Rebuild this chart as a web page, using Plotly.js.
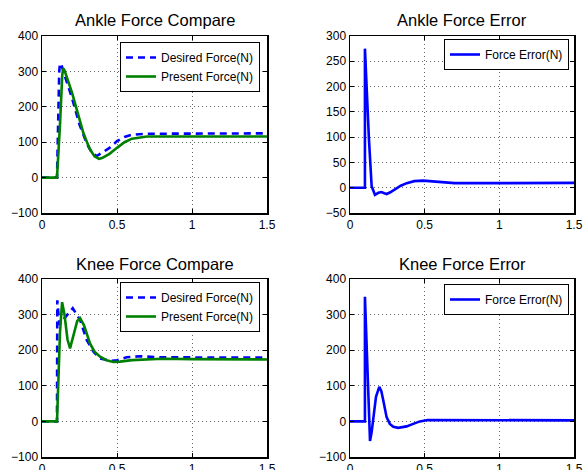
<!DOCTYPE html>
<html>
<head>
<meta charset="utf-8">
<script src="https://cdn.plot.ly/plotly-3.0.1.min.js"></script>
<style>html,body{margin:0;padding:0;background:#fff;}#chart{width:583px;height:470px;}</style>
</head>
<body>
<div id="chart"></div>
<script>
// ---- data ----
const xTickVals = [0, 0.5, 1, 1.5];
const xTickText = ["0", "0.5", "1", "1.5"];

// Ankle Force Compare
const ankleDesiredT = [0, 0.1, 0.105, 0.11, 0.115, 0.12, 0.13, 0.15, 0.2, 0.25, 0.3, 0.33, 0.365, 0.4, 0.45, 0.5, 0.55, 0.6, 0.7, 0.8, 1.0, 1.5];
const ankleDesired  = [0, 0, 100, 230, 300, 323, 318, 290, 225, 150, 95, 72, 61, 70, 84, 103, 115, 121, 124, 124, 124, 125];
const anklePresentT = [0, 0.1, 0.12, 0.135, 0.142, 0.15, 0.2, 0.25, 0.276, 0.3, 0.32, 0.35, 0.38, 0.4, 0.45, 0.5, 0.55, 0.6, 0.65, 0.7, 0.8, 1.0, 1.5];
const anklePresent  = [0, 0, 150, 290, 308, 303, 240, 165, 126, 100, 80, 60, 53, 55, 67, 84, 100, 110, 114, 116, 116, 116, 116];

// Ankle Force Error
const ankleErrT = [0, 0.1, 0.1, 0.11, 0.127, 0.145, 0.16, 0.167, 0.19, 0.21, 0.23, 0.245, 0.27, 0.3, 0.34, 0.38, 0.43, 0.49, 0.55, 0.6, 0.7, 0.9, 1.2, 1.5];
const ankleErr  = [0, 0, 275, 195, 95, 3, -12, -14, -10, -8.5, -11, -12.5, -9, -3, 4, 9, 13, 14, 12.5, 10.5, 9, 9, 9, 9.5];

// Knee Force Compare
const kneeDesiredT = [0, 0.1, 0.102, 0.116, 0.16, 0.205, 0.254, 0.298, 0.343, 0.387, 0.454, 0.499, 0.565, 0.654, 0.788, 1.055, 1.5];
const kneeDesired  = [0, 0, 340, 271, 295, 318, 285, 229, 196, 177, 170, 172, 180, 183, 180, 179, 179];
const kneePresentT = [0, 0.1, 0.12, 0.134, 0.15, 0.17, 0.187, 0.21, 0.235, 0.254, 0.28, 0.32, 0.35, 0.387, 0.43, 0.476, 0.52, 0.6, 0.7, 0.8, 1.0, 1.5];
const kneePresent  = [0, 0, 250, 335, 300, 230, 205, 240, 282, 290, 270, 219, 196, 182, 172, 167, 168, 172, 175, 176, 175, 174];

// Knee Force Error
const kneeErrT = [0, 0.1, 0.1, 0.134, 0.145, 0.156, 0.174, 0.196, 0.21, 0.223, 0.245, 0.267, 0.29, 0.323, 0.35, 0.379, 0.423, 0.468, 0.52, 0.6, 0.8, 1.0, 1.5];
const kneeErr  = [0, 0, 350, -55, -30, 3, 69, 97, 85, 59, 12, -7, -15, -18, -16, -14, -7, 0, 4, 4, 3, 3, 3];

const titles = ["Ankle Force Compare", "Ankle Force Error", "Knee Force Compare", "Knee Force Error"];
const desiredName = "Desired Force(N)";
const presentName = "Present Force(N)";
const errorName = "Force Error(N)";

// ---- styling ----
const W = 583, H = 470;
const FONT = "Liberation Sans, Arial, Helvetica, sans-serif";
const BLUE = "#0000ff", GREEN = "#008000";
const LW = 2.6;
const DASH = "7px,5px";

const traces = [
  {x: ankleDesiredT, y: ankleDesired, name: desiredName, xaxis: "x", yaxis: "y", legend: "legend",
   mode: "lines", line: {color: BLUE, width: LW, dash: DASH}},
  {x: anklePresentT, y: anklePresent, name: presentName, xaxis: "x", yaxis: "y", legend: "legend",
   mode: "lines", line: {color: GREEN, width: LW}},
  {x: ankleErrT, y: ankleErr, name: errorName, xaxis: "x2", yaxis: "y2", legend: "legend2",
   mode: "lines", line: {color: BLUE, width: LW}},
  {x: kneeDesiredT, y: kneeDesired, name: desiredName, xaxis: "x3", yaxis: "y3", legend: "legend3",
   mode: "lines", line: {color: BLUE, width: LW, dash: DASH}},
  {x: kneePresentT, y: kneePresent, name: presentName, xaxis: "x3", yaxis: "y3", legend: "legend3",
   mode: "lines", line: {color: GREEN, width: LW}},
  {x: kneeErrT, y: kneeErr, name: errorName, xaxis: "x4", yaxis: "y4", legend: "legend4",
   mode: "lines", line: {color: BLUE, width: LW}}
];

const common = {ticks: "inside", ticklen: 4, tickcolor: "#000", showline: true, linecolor: "#000", linewidth: 1.5,
  mirror: "ticks", showgrid: true, gridcolor: "#666", griddash: "1px,3px", gridwidth: 1, zeroline: false,
  tickfont: {family: FONT, size: 12, color: "#000"}, fixedrange: true};

function xax(l, r, anchor) {
  return Object.assign({domain: [l / W, r / W], anchor: anchor, range: [0, 1.5], tickvals: xTickVals, ticktext: xTickText}, common);
}
function yax(top, bot, anchor, range, dtick) {
  return Object.assign({domain: [1 - bot / H, 1 - top / H], anchor: anchor, range: range, dtick: dtick, tick0: 0}, common);
}
function leg(xr, yt) {
  return {x: xr / W, y: 1 - yt / H, xanchor: "right", yanchor: "top", bgcolor: "#fff",
    bordercolor: "#000", borderwidth: 1, font: {family: FONT, size: 12, color: "#000"},
    itemwidth: 30, tracegroupgap: 0};
}
function ttl(text, cx, cy) {
  return {text: text, x: cx / W, y: 1 - cy / H, xref: "paper", yref: "paper", xanchor: "center",
    yanchor: "middle", showarrow: false, font: {family: FONT, size: 16.5, color: "#000"}};
}

const layout = {
  width: W, height: H, margin: {l: 0, r: 0, t: 0, b: 0, pad: 0},
  paper_bgcolor: "#fff", plot_bgcolor: "#fff", showlegend: true,
  font: {family: FONT, color: "#000"},
  xaxis: xax(42, 267, "y"), yaxis: yax(36, 213, "x", [-100, 400], 100),
  xaxis2: xax(350, 574, "y2"), yaxis2: yax(36, 213, "x2", [-50, 300], 50),
  xaxis3: xax(42, 267, "y3"), yaxis3: yax(279, 457, "x3", [-100, 400], 100),
  xaxis4: xax(350, 574, "y4"), yaxis4: yax(279, 457, "x4", [-100, 400], 100),
  legend: leg(260, 42), legend2: leg(569, 39), legend3: leg(260, 282), legend4: leg(569, 284),
  annotations: [ttl(titles[0], 154.5, 20), ttl(titles[1], 462, 20), ttl(titles[2], 154.5, 264), ttl(titles[3], 462, 264)]
};

Plotly.newPlot("chart", traces, layout, {staticPlot: true, displayModeBar: false});
</script>
</body>
</html>
